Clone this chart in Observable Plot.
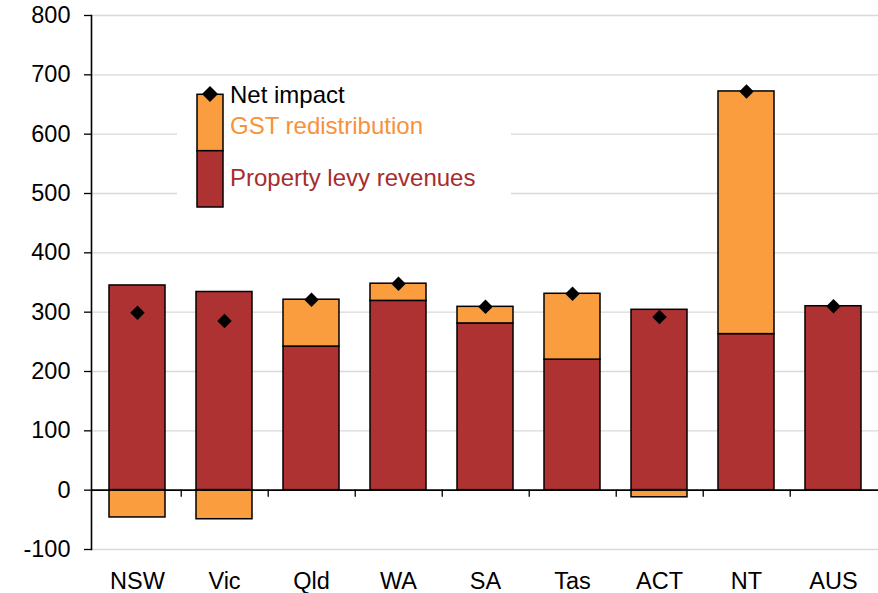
<!DOCTYPE html>
<html>
<head>
<meta charset="utf-8">
<script src="https://cdn.jsdelivr.net/npm/d3@7"></script>
<script src="https://cdn.jsdelivr.net/npm/@observablehq/plot@0.6"></script>
<style>
  body { margin: 0; background: #fff; font-family: "Liberation Sans", Arial, sans-serif; }
  #wrap { position: relative; width: 878px; height: 593px; }
  #legend { position: absolute; left: 177px; top: 80px; width: 334px; height: 135px; background: #fff; }
  #legend svg { position: absolute; left: 0; top: 0; }
  #legend span { position: absolute; left: 53px; font-size: 24px; line-height: 24px; white-space: nowrap; }
</style>
</head>
<body>
<div id="wrap"></div>
<script>
const states = ["NSW", "Vic", "Qld", "WA", "SA", "Tas", "ACT", "NT", "AUS"];
const propertyLevy = [345, 334, 242, 319, 281, 220, 304, 263, 310];
const gstRedistribution = [-46, -49, 79, 29, 28, 111, -12, 409, 0];
const netImpact = [299, 285, 321, 348, 309, 331, 292, 672, 310];
const yTicks = [-100, 0, 100, 200, 300, 400, 500, 600, 700, 800];
const seriesNames = ["Property levy revenues", "GST redistribution"];
const seriesColors = ["#AE3232", "#F99D3F"];
const netLabel = "Net impact";

const rows = states.flatMap((s, i) => [
  { state: s, series: seriesNames[0], value: propertyLevy[i] },
  { state: s, series: seriesNames[1], value: gstRedistribution[i] }
]);
const net = states.map((s, i) => ({ state: s, value: netImpact[i] }));

const W = 878, H = 593, ML = 91, MR = 0, MT = 15, MB = 44;
const step = (W - ML - MR) / states.length;

const chart = Plot.plot({
  width: W, height: H,
  marginLeft: ML, marginRight: MR, marginTop: MT, marginBottom: MB,
  style: { fontFamily: "Liberation Sans, Arial, sans-serif", fontSize: "23.5px", color: "#000", background: "#fff", overflow: "visible" },
  x: { domain: states, paddingInner: 0.36, paddingOuter: 0.18, label: null },
  y: { domain: [-100, 800], label: null },
  color: { domain: seriesNames, range: seriesColors },
  marks: [
    Plot.gridY(yTicks.filter(d => d !== 0), { stroke: "#d9d9d9", strokeOpacity: 1, strokeWidth: 1.3 }),
    Plot.axisY({ ticks: yTicks, tickSize: 7, tickPadding: 14, label: null, stroke: "#000", strokeWidth: 1.3, fontSize: 23.5, tickFormat: d => String(d) }),
    Plot.axisX({ tickSize: 0, tickPadding: 23, label: null, fontSize: 23.5 }),
    Plot.barY(rows, { x: "state", y: "value", fill: "series", order: seriesNames, stroke: "#000", strokeWidth: 1.5 }),
    Plot.ruleY([0], { stroke: "#000", strokeWidth: 1.6 }),
    Plot.ruleX(states.slice(0, -1), { x: d => d, y1: 0, y2: 0, insetBottom: -7, dx: step / 2, stroke: "#000", strokeWidth: 1.3 }),
    Plot.frame({ anchor: "left", stroke: "#000", strokeWidth: 1.6 }),
    Plot.dot(net, { x: "state", y: "value", symbol: "diamond2", r: 6.5, fill: "#000", stroke: null, title: d => `${netLabel}: ${d.value}` })
  ]
});

const wrap = document.getElementById("wrap");
wrap.appendChild(chart);

const legend = document.createElement("div");
legend.id = "legend";
legend.innerHTML = `
<svg width="334" height="135">
  <rect x="20" y="14.3" width="26" height="56.4" fill="${seriesColors[1]}" stroke="#000" stroke-width="1.5"/>
  <rect x="20" y="70.7" width="26" height="56.3" fill="${seriesColors[0]}" stroke="#000" stroke-width="1.5"/>
  <path d="M33,6 L41,14 L33,22 L25,14 Z" fill="#000"/>
</svg>
<span style="top:3px;color:#000">${netLabel}</span>
<span style="top:34px;color:#F7923A">${seriesNames[1]}</span>
<span style="top:85.7px;color:#A82C2C">${seriesNames[0]}</span>`;
wrap.appendChild(legend);
</script>
</body>
</html>
